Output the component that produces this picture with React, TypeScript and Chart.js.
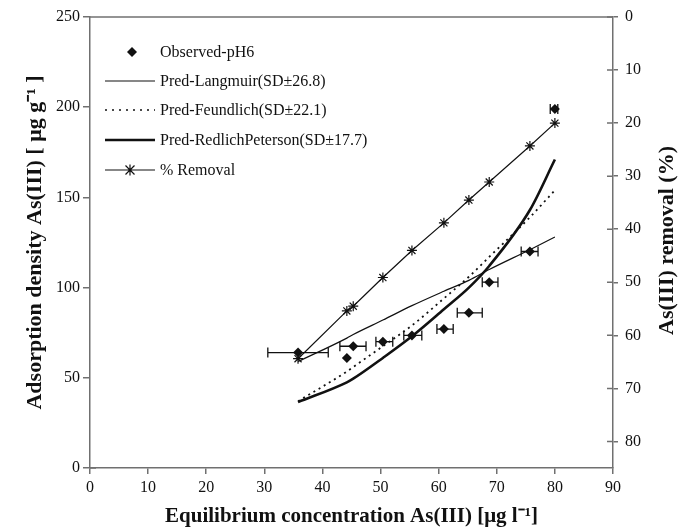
import React, { useEffect, useRef } from "react";
import { Chart, registerables } from "chart.js";

Chart.register(...registerables);

// Equilibrium concentration As(III) [µg/l]
const concentration = [35.8, 44.2, 45.3, 50.4, 55.4, 60.9, 65.2, 68.7, 75.7, 80.0];
// Observed adsorption density (pH 6)
const observed = [64, 61, 67.5, 70, 73.5, 77, 86, 103, 120, 199];
// Horizontal error bars (x low / x high), null = no bar
const errLow: (number | null)[] = [30.6, null, 43.0, 49.2, 54.0, 59.7, 63.2, 67.5, 74.2, 79.2];
const errHigh: (number | null)[] = [41.0, null, 47.5, 52.1, 57.1, 62.5, 67.5, 70.2, 77.1, 80.5];
// Model predictions
const langmuir = [59, 72, 74, 82, 90, 98, 104, 110, 121, 128];
const freundlich = [37, 53.5, 56, 67.5, 79, 94, 106, 117, 139, 154];
const redlichPeterson = [36.5, 47.5, 49.5, 61, 73, 88, 100, 112, 143, 171];
// % removal (right axis, reversed)
const removal = [64.4, 55.4, 54.5, 49.1, 44.0, 38.8, 34.5, 31.1, 24.3, 20.0];

const xTickStep = 10;
const yTickStep = 50;
const y2TickStep = 10;

const labels = [
  "Observed-pH6",
  "Pred-Langmuir(SD±26.8)",
  "Pred-Feundlich(SD±22.1)",
  "Pred-RedlichPeterson(SD±17.7)",
  "% Removal",
];

const FONT = "'Liberation Serif', 'Times New Roman', serif";
const AXIS = "#707070";
const INK = "#111111";

export default function App() {
  const ref = useRef<HTMLCanvasElement>(null);

  useEffect(() => {
    document.body.style.margin = "0";
    const canvas = ref.current!;
    const pts = (ys: number[]) => concentration.map((x, i) => ({ x, y: ys[i] }));

    const errorBars = {
      id: "errorBars",
      beforeDatasetsDraw(chart: any) {
        const { ctx } = chart;
        const xs = chart.scales.x;
        const ys = chart.scales.y;
        ctx.save();
        ctx.strokeStyle = INK;
        ctx.lineWidth = 1.3;
        for (let i = 0; i < concentration.length; i++) {
          const lo = errLow[i];
          const hi = errHigh[i];
          if (lo == null || hi == null) continue;
          const py = ys.getPixelForValue(observed[i]);
          const x1 = xs.getPixelForValue(lo);
          const x2 = xs.getPixelForValue(hi);
          ctx.beginPath();
          ctx.moveTo(x1, py);
          ctx.lineTo(x2, py);
          ctx.moveTo(x1, py - 5);
          ctx.lineTo(x1, py + 5);
          ctx.moveTo(x2, py - 5);
          ctx.lineTo(x2, py + 5);
          ctx.stroke();
        }
        ctx.restore();
      },
    };

    const decorations = {
      id: "decorations",
      afterDraw(chart: any) {
        const { ctx, chartArea } = chart;
        const { left, right, top, bottom } = chartArea;
        ctx.save();
        // top border
        ctx.strokeStyle = AXIS;
        ctx.lineWidth = 1.5;
        ctx.beginPath();
        ctx.moveTo(left, top);
        ctx.lineTo(right, top);
        ctx.stroke();
        // inward ticks on right axis
        const y2 = chart.scales.y2;
        ctx.beginPath();
        y2.ticks.forEach((t: any) => {
          const py = y2.getPixelForValue(t.value);
          ctx.moveTo(right, py);
          ctx.lineTo(right - 6, py);
        });
        // crossing tick at origin
        ctx.moveTo(left, bottom);
        ctx.lineTo(left + 6, bottom);
        ctx.stroke();

        // right title (reads bottom-to-top)
        ctx.fillStyle = INK;
        ctx.font = `bold 22px ${FONT}`;
        ctx.textAlign = "center";
        ctx.textBaseline = "middle";
        ctx.save();
        ctx.translate(667, (top + bottom) / 2 - 2);
        ctx.rotate(-Math.PI / 2);
        ctx.fillText("As(III) removal (%)", 0, 0);
        ctx.restore();

        // legend
        const lx0 = 105;
        const lx1 = 155;
        const tx = 160;
        const rowY = [52, 81, 110, 140, 170];
        ctx.font = `16px ${FONT}`;
        ctx.textAlign = "left";
        ctx.textBaseline = "middle";
        ctx.strokeStyle = INK;
        ctx.fillStyle = INK;

        // 0 observed diamond
        const dx = 132;
        let y = rowY[0];
        ctx.beginPath();
        ctx.moveTo(dx, y - 5);
        ctx.lineTo(dx + 5, y);
        ctx.lineTo(dx, y + 5);
        ctx.lineTo(dx - 5, y);
        ctx.closePath();
        ctx.fill();

        // 1 langmuir
        y = rowY[1];
        ctx.lineWidth = 1.2;
        ctx.beginPath();
        ctx.moveTo(lx0, y);
        ctx.lineTo(lx1, y);
        ctx.stroke();

        // 2 freundlich dotted
        y = rowY[2];
        ctx.lineWidth = 1.6;
        ctx.setLineDash([2, 5]);
        ctx.beginPath();
        ctx.moveTo(lx0, y);
        ctx.lineTo(lx1, y);
        ctx.stroke();
        ctx.setLineDash([]);

        // 3 RP thick
        y = rowY[3];
        ctx.lineWidth = 2.6;
        ctx.beginPath();
        ctx.moveTo(lx0, y);
        ctx.lineTo(lx1, y);
        ctx.stroke();

        // 4 removal with star
        y = rowY[4];
        ctx.lineWidth = 1.2;
        ctx.beginPath();
        ctx.moveTo(lx0, y);
        ctx.lineTo(lx1, y);
        const sx = (lx0 + lx1) / 2;
        const r = 4.5;
        ctx.moveTo(sx - r, y - r);
        ctx.lineTo(sx + r, y + r);
        ctx.moveTo(sx - r, y + r);
        ctx.lineTo(sx + r, y - r);
        ctx.moveTo(sx, y - r - 1);
        ctx.lineTo(sx, y + r + 1);
        ctx.stroke();

        labels.forEach((t, i) => ctx.fillText(t, tx, rowY[i] + 1));
        ctx.restore();
      },
    };

    const tickFont = { family: FONT, size: 16 };

    const chart = new Chart(canvas, {
      type: "scatter",
      data: {
        datasets: [
          {
            label: labels[0],
            data: pts(observed),
            showLine: false,
            pointStyle: "rectRot",
            pointRadius: 5,
            backgroundColor: INK,
            borderColor: INK,
            borderWidth: 0,
            yAxisID: "y",
            order: 0,
          },
          {
            label: labels[1],
            data: pts(langmuir),
            showLine: true,
            pointRadius: 0,
            borderColor: INK,
            borderWidth: 1.2,
            cubicInterpolationMode: "monotone",
            yAxisID: "y",
          },
          {
            label: labels[2],
            data: pts(freundlich),
            showLine: true,
            pointRadius: 0,
            borderColor: INK,
            borderWidth: 1.8,
            borderDash: [2, 4],
            cubicInterpolationMode: "monotone",
            yAxisID: "y",
          },
          {
            label: labels[3],
            data: pts(redlichPeterson),
            showLine: true,
            pointRadius: 0,
            borderColor: INK,
            borderWidth: 2.6,
            cubicInterpolationMode: "monotone",
            yAxisID: "y",
          },
          {
            label: labels[4],
            data: pts(removal),
            showLine: true,
            pointStyle: "star",
            pointRadius: 5,
            pointBorderWidth: 1.2,
            pointBorderColor: INK,
            borderColor: INK,
            borderWidth: 1.2,
            yAxisID: "y2",
          },
        ],
      },
      options: {
        responsive: false,
        animation: false,
        layout: { padding: { top: 17, left: 0, right: 0, bottom: 0 } },
        plugins: {
          legend: { display: false },
          tooltip: { enabled: false },
        },
        scales: {
          x: {
            type: "linear",
            position: "bottom",
            min: 0,
            max: 90,
            ticks: { stepSize: xTickStep, color: INK, font: tickFont, padding: 4 },
            grid: { drawOnChartArea: false, tickLength: 6, color: AXIS, lineWidth: 1.5 },
            border: { color: AXIS, width: 1.5 },
            title: {
              display: true,
              text: "Equilibrium concentration As(III) [μg l⁻¹]",
              font: { family: FONT, size: 21, weight: "bold" },
              color: INK,
              padding: { top: 0, bottom: 2 },
            },
            afterFit: (s: any) => {
              s.height = 63;
            },
          },
          y: {
            type: "linear",
            position: "left",
            min: 0,
            max: 250,
            ticks: { stepSize: yTickStep, color: INK, font: tickFont, padding: 3 },
            grid: { drawOnChartArea: false, tickLength: 7, color: AXIS, lineWidth: 1.5 },
            border: { color: AXIS, width: 1.5 },
            title: {
              display: true,
              text: "Adsorption density As(III) [ μg g⁻¹ ]",
              font: { family: FONT, size: 22, weight: "bold" },
              color: INK,
              padding: { top: 22, bottom: 0 },
            },
            afterFit: (s: any) => {
              s.width = 90;
            },
          },
          y2: {
            type: "linear",
            position: "right",
            reverse: true,
            min: 0,
            max: 85,
            ticks: { stepSize: y2TickStep, color: INK, font: tickFont, padding: 7 },
            afterBuildTicks: (s: any) => {
              s.ticks = s.ticks.filter((t: any) => t.value % y2TickStep === 0);
            },
            grid: { drawOnChartArea: false, tickLength: 5, color: AXIS, lineWidth: 1.5 },
            border: { color: AXIS, width: 1.5 },
            afterFit: (s: any) => {
              s.width = 70;
            },
          },
        },
      },
      plugins: [errorBars, decorations],
    } as any);

    return () => chart.destroy();
  }, []);

  return (
    <div style={{ width: 683, height: 531 }}>
      <canvas ref={ref} width={683} height={531} style={{ display: "block" }} />
    </div>
  );
}
